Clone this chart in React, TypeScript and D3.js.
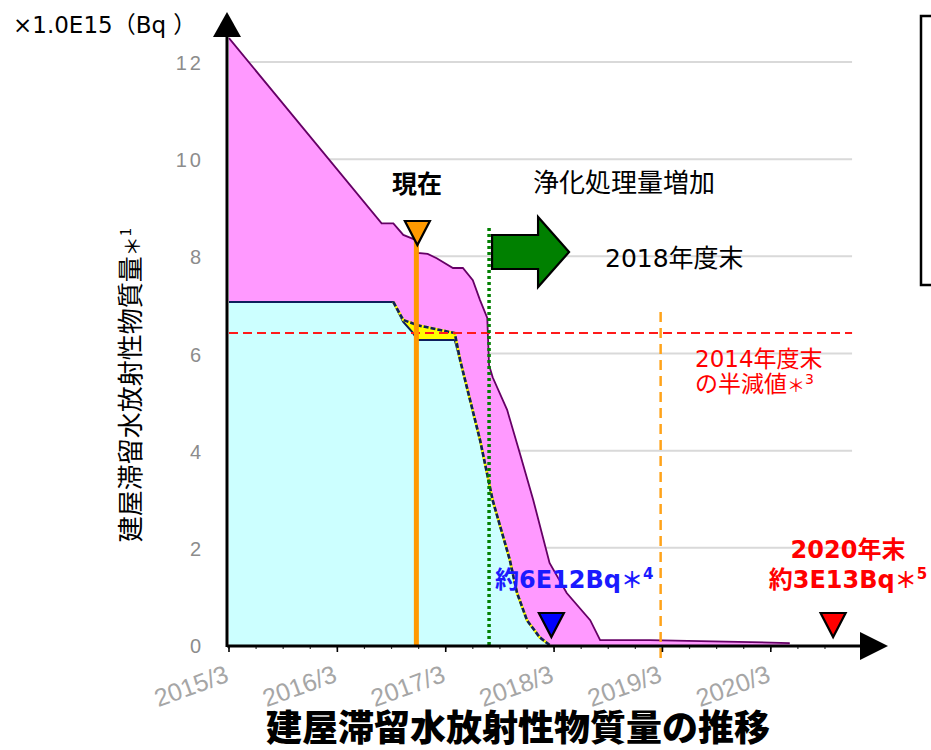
import React from "react";
import * as d3 from "d3";

// ---- data (months since 2015/3, value ×1.0E15 Bq) ----
const totalMonths = [0, 16.9, 18.2, 19.3, 20.8, 20.9, 22.0, 23.0, 24.8, 25.9, 27.0, 27.8, 28.6, 28.8, 29.2, 30.8, 32.2, 33.7, 35.5, 37.4, 40.0, 41.1, 46.6, 55.0, 62.1];
const totalValues = [12.49, 8.68, 8.68, 8.44, 8.33, 8.07, 8.05, 7.96, 7.76, 7.76, 7.51, 7.10, 6.73, 5.76, 5.51, 4.84, 3.95, 2.98, 1.69, 1.07, 0.51, 0.10, 0.10, 0.07, 0.04];

const actualMonths = [0, 18.2, 19.3, 20.3, 20.9, 25.0, 25.6, 27.8, 29.2, 31.1, 31.9, 33.0, 34.4, 35.5];
const actualValues = [7.06, 7.06, 6.65, 6.44, 6.28, 6.28, 5.86, 4.22, 2.98, 1.75, 1.07, 0.51, 0.16, 0];

const planMonths = [0, 18.2, 19.3, 20.9, 25.0, 25.6, 27.8, 29.2, 31.1, 31.9, 33.0, 34.4, 35.5];
const planValues = [7.06, 7.06, 6.69, 6.58, 6.42, 5.86, 4.22, 2.98, 1.75, 1.07, 0.51, 0.16, 0];

const halfValue = 6.42;
const nowMonth = 20.75;
const increaseMonth = 28.8;
const fy2018Month = 47.8;
const target2018Month = 35.7;
const target2020Month = 66.9;
const gridEndMonth = 69;

const yTicks = [0, 2, 4, 6, 8, 10, 12];
const xTickMonths = [0, 12, 24, 36, 48, 60];
const xTickLabels = ["2015/3", "2016/3", "2017/3", "2018/3", "2019/3", "2020/3"];
const minorTickMonths = d3.range(0, 67, 3);

const FONT = "'DejaVu Sans','Noto Sans CJK JP',sans-serif";
const TICKFONT = "'Liberation Sans',Arial,sans-serif";
const CJK = "'Noto Sans CJK JP',sans-serif";

const x = d3.scaleLinear().domain([0, 60]).range([229, 770.8]);
const y = d3.scaleLinear().domain([0, 12]).range([645, 62]);

type P = [number, number];
const zip = (a: number[], b: number[]): P[] => a.map((m, i) => [m, b[i]]);

const area = d3.area<P>().x(d => x(d[0])).y0(y(0)).y1(d => y(d[1]));
const line = d3.line<P>().x(d => x(d[0])).y(d => y(d[1]));

const totalData = zip(totalMonths, totalValues);
const actualData = zip(actualMonths, actualValues);
const planData = zip(planMonths, planValues);
const planLineData = planData.slice(1);

function Tri({ cx, top, fill }: { cx: number; top: number; fill: string }) {
  const h = 24, w = 12.5;
  return <path d={`M${cx - w},${top}L${cx + w},${top}L${cx},${top + h}Z`} fill={fill} stroke="#000" strokeWidth={2.2} strokeLinejoin="miter" />;
}

const Star = ({ size }: { size: number }) => <tspan fontFamily={CJK} fontSize={size}>＊</tspan>;

export default function App() {
  const axisY = y(0);
  const nowX = x(nowMonth);
  return (
    <svg width={931} height={750} style={{ position: "absolute", left: 0, top: 0, background: "#fff" }}>
      {/* gridlines */}
      {yTicks.filter(t => t > 0).map(t => (
        <line key={t} x1={x(0)} x2={x(gridEndMonth)} y1={y(t)} y2={y(t)} stroke="#d9d9d9" strokeWidth={2} />
      ))}
      {/* areas */}
      <path d={area(totalData) || ""} fill="#ff99ff" />
      <path d={line(totalData) || ""} fill="none" stroke="#660066" strokeWidth={1.8} />
      <path d={area(planData) || ""} fill="#ffff00" />
      <path d={area(actualData) || ""} fill="#ccffff" />
      <path d={line(actualData) || ""} fill="none" stroke="#0d1f5c" strokeWidth={2} />
      <path d={line(planLineData) || ""} fill="none" stroke="#ffff00" strokeWidth={2.6} />
      <path d={line(planLineData) || ""} fill="none" stroke="#0d1f5c" strokeWidth={2.6} strokeDasharray="5,2" />

      {/* half value line */}
      <line x1={x(0)} x2={x(gridEndMonth)} y1={y(halfValue)} y2={y(halfValue)} stroke="#ff1a1a" strokeWidth={2} strokeDasharray="9,5" />
      {/* FY2018 orange dashed */}
      <line x1={x(fy2018Month)} x2={x(fy2018Month)} y1={312} y2={662} stroke="#ffa31a" strokeWidth={2.5} strokeDasharray="10,6" />
      {/* green dotted */}
      <line x1={x(increaseMonth)} x2={x(increaseMonth)} y1={228} y2={axisY} stroke="#008000" strokeWidth={3.5} strokeDasharray="3,3" />
      {/* current line */}
      <line x1={nowX} x2={nowX} y1={240} y2={axisY} stroke="#ff9900" strokeWidth={5} />
      <Tri cx={nowX + 1} top={221} fill="#ff9900" />

      {/* green arrow */}
      <path d={`M${x(increaseMonth) + 3},235L${x(increaseMonth) + 49},235L${x(increaseMonth) + 49},217L${x(increaseMonth) + 80},252L${x(increaseMonth) + 49},287L${x(increaseMonth) + 49},269L${x(increaseMonth) + 3},269Z`}
        fill="#008000" stroke="#000" strokeWidth={2.2} />

      {/* axes */}
      {minorTickMonths.map(m => (
        <line key={"mt" + m} x1={x(m)} x2={x(m)} y1={axisY} y2={axisY + 4} stroke="#333" strokeWidth={1.2} />
      ))}
      {xTickMonths.map(m => (
        <line key={"t" + m} x1={x(m)} x2={x(m)} y1={axisY} y2={axisY + 7} stroke="#000" strokeWidth={1.6} />
      ))}
      <line x1={227} x2={862} y1={axisY + 1} y2={axisY + 1} stroke="#000" strokeWidth={3} />
      <path d={`M860,${axisY - 13}L888,${axisY + 1}L860,${axisY + 15}Z`} fill="#000" />
      <line x1={227} x2={227} y1={axisY + 2} y2={36} stroke="#000" strokeWidth={3} />
      <path d="M213,37L241,37L227,12Z" fill="#000" />

      {/* y tick labels */}
      {yTicks.map(t => (
        <text key={"yl" + t} x={204} y={y(t) + 8} textAnchor="end" fontFamily={TICKFONT} fontSize={20} letterSpacing={3} fill="#8c8c8c">{t}</text>
      ))}
      {/* x tick labels */}
      {xTickMonths.map((m, i) => (
        <text key={"xl" + m} transform={`translate(${x(m) + 1},681) rotate(-20)`} textAnchor="end" fontFamily={TICKFONT} fontSize={25} fill="#a6a6a6">{xTickLabels[i]}</text>
      ))}

      {/* unit label */}
      <text x={13} y={33} fontFamily={FONT} fontSize={23} fill="#000">×1.0E15<tspan fontFamily={CJK}>（</tspan>Bq <tspan fontFamily={CJK}>）</tspan></text>

      {/* y axis title */}
      <text transform="translate(140,385) rotate(-90)" textAnchor="middle" fontFamily={CJK} fontSize={26} fill="#000">
        建屋滞留水放射性物質量<tspan fontSize={20}>＊</tspan><tspan fontSize={15} dy={-9}>1</tspan>
      </text>

      {/* annotations */}
      <text x={417} y={193} textAnchor="middle" fontFamily={CJK} fontWeight={700} fontSize={25} fill="#000">現在</text>
      <text x={624} y={192} textAnchor="middle" fontFamily={CJK} fontSize={26} fill="#000">浄化処理量増加</text>
      <text x={605} y={267} fontFamily={FONT} fontSize={25} fill="#000">2018年度末</text>
      <text x={695} y={367} fontFamily={FONT} fontSize={23} fill="#ff0000">2014年度末</text>
      <text x={695} y={392} fontFamily={FONT} fontSize={23} fill="#ff0000">の半減値<Star size={18} /><tspan fontSize={14} dy={-8}>3</tspan></text>

      <text x={495} y={588} fontFamily={FONT} fontWeight={700} fontSize={24} fill="#1a1aff">約6E12Bq<Star size={22} /><tspan fontSize={15} dy={-9}>4</tspan></text>
      <text x={848} y={558} textAnchor="middle" fontFamily={FONT} fontWeight={700} fontSize={24} fill="#ff0000">2020年末</text>
      <text x={848} y={588} textAnchor="middle" fontFamily={FONT} fontWeight={700} fontSize={24} fill="#ff0000">約3E13Bq<Star size={22} /><tspan fontSize={15} dy={-9}>5</tspan></text>

      <Tri cx={x(target2018Month)} top={613} fill="#0000ff" />
      <Tri cx={x(target2020Month)} top={613} fill="#ff0000" />

      {/* legend box (clipped) */}
      <rect x={921} y={16} width={60} height={269} fill="#fff" stroke="#000" strokeWidth={2.5} />

      {/* title */}
      <text x={518} y={741} textAnchor="middle" fontFamily={CJK} fontWeight={900} fontSize={36} fill="#000">建屋滞留水放射性物質量の推移</text>
    </svg>
  );
}
